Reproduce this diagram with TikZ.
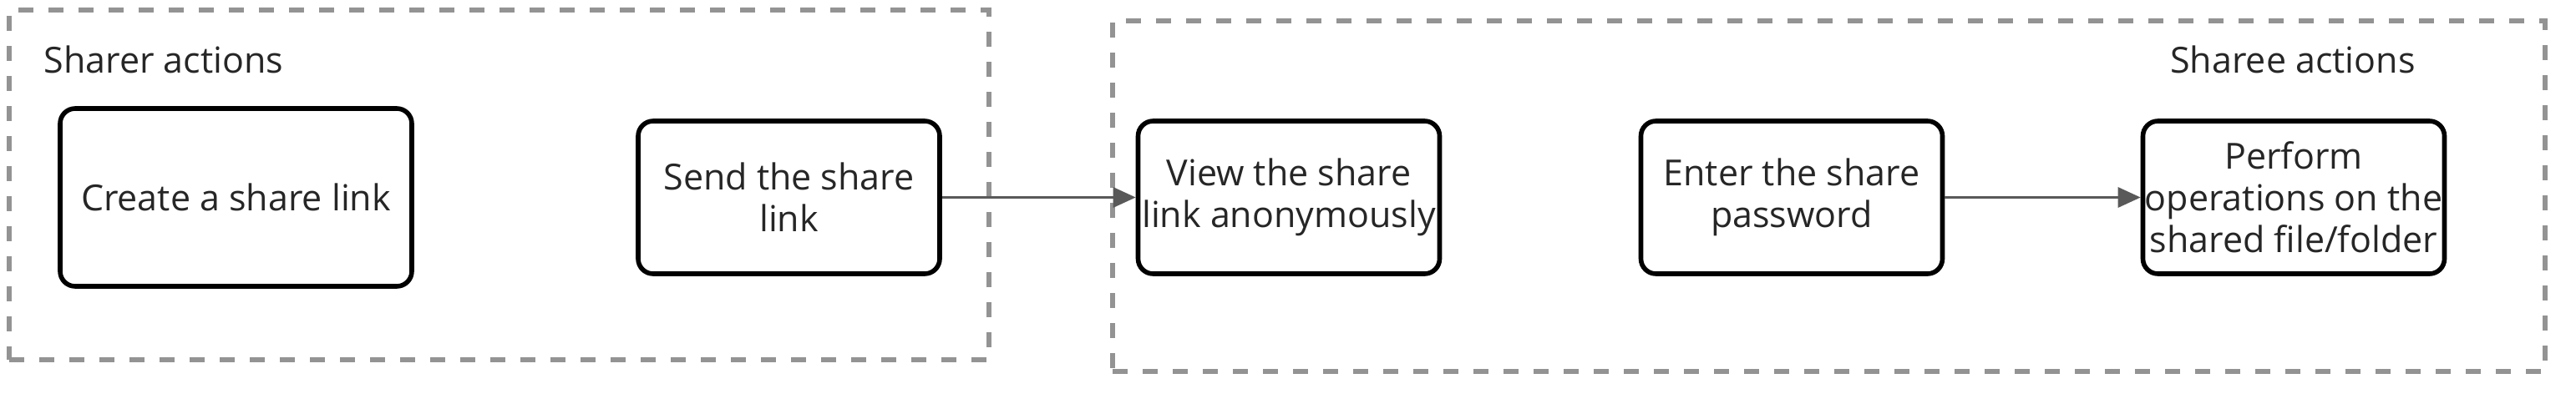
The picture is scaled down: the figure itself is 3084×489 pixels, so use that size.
\documentclass[tikz,border=0pt]{standalone}
\usepackage{fontspec}
\setmainfont{Open Sans}
\usetikzlibrary{arrows.meta}
\definecolor{grpgray}{HTML}{939393}
\definecolor{flowgray}{HTML}{595959}
\definecolor{txtgray}{HTML}{262626}
\tikzset{
  actbox/.style={rectangle,rounded corners=9pt,draw=black,line width=2.8pt,fill=white,text=txtgray,align=center,inner sep=0pt,minimum width=180.5pt,minimum height=91.5pt,font=\fontsize{21.5}{25}\selectfont},
  grpbox/.style={rectangle,draw=grpgray,line width=3pt,dash pattern=on 9pt off 9pt,inner sep=0pt},
  grplabel/.style={text=txtgray,inner sep=0pt,font=\fontsize{21.5}{25}\selectfont},
  flow/.style={draw=flowgray,line width=1.5pt,-{Triangle[length=13.5pt,width=12pt]}},
}
\newcommand{\actnode}{\node[actbox]}

\begin{document}
\begin{tikzpicture}[x=0.5pt,y=-0.5pt]
          \useasboundingbox (0,0) rectangle (3084,489);
          \node[grpbox,minimum width=586.5pt,minimum height=209.5pt] (sharer) at (597.5,221.5) {}; % 
          \node[grpbox,minimum width=857.5pt,minimum height=210pt] (sharee) at (2189.5,235) {}; % 
          \node[grplabel,anchor=base west] (sharerlab) at (52,87) {Sharer actions};
          \node[grplabel,anchor=base] (shareelab) at (2745,87) {Sharee actions};
          \actnode[minimum width=210.5pt,minimum height=106.5pt] (create) at (282.5,236.5) {Create a share link}; % 
          \actnode (send) at (944.5,236.5) {Send the share\\link};
          \actnode (view) at (1543,236.5) {View the share\\link anonymously};
          \actnode (enter) at (2145,236.5) {Enter the share\\password};
          \actnode (perform) at (2746,236.5) {Perform\\operations on the\\shared file/folder}; % 
          \draw[flow] (send) -- (view);
          \draw[flow] (enter) -- (perform);
        \end{tikzpicture}
\end{document}
